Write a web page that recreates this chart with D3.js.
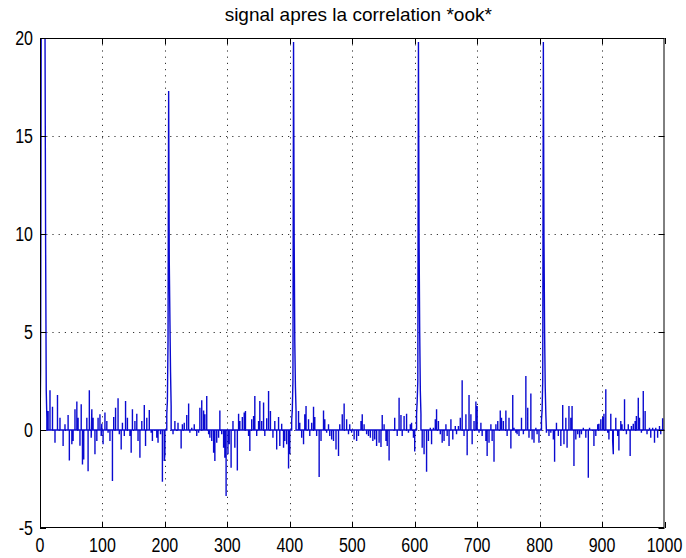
<!DOCTYPE html>
<html><head><meta charset="utf-8">
<script src="https://cdn.jsdelivr.net/npm/d3@7"></script>
<style>body{margin:0;background:#fff}</style>
</head><body>
<svg id="c" width="686" height="558"></svg>
<script>
const title = "signal apres la correlation *ook*";
const xTicks = [0,100,200,300,400,500,600,700,800,900,1000];
const yTicks = [-5,0,5,10,15,20];

// correlation peaks (contiguous samples)
const peakX = [0,1,2,3,4,5,6,7,8,9,10,11,
  203,204,205,206,207,208,209,210,
  403,404,405,406,407,408,409,410,
  603,604,605,606,607,608,609,610,
  803,804,805,806,807,808,809,810];
const peakY = [0,3.1,22,25,26,25,23,22,20.5,9.4,2.0,0.6,
  0.8,1.5,4.5,17.3,8.6,5.7,3.0,1.2,
  0.5,1.0,2.5,19.8,9.8,4.5,2.2,1.0,
  0.8,1.5,2.5,19.8,9.8,5.0,2.0,0.8,
  0.5,1.0,2.5,19.8,9.9,5.0,2.2,0.8];

// residual noise (sample index, value)
const noiseX = [13,16,20,24,28,32,37,40,45,47,51,53,56,59,61,64,66,68,70,75,77,79,82,83,85,88,91,93,96,98,99,101,104,107,109,112,116,118,121,125,127,130,132,135,137,140,144,146,148,152,155,157,160,163,167,169,171,175,178,180,184,187,189,193,196,199,200,
  213,216,219,221,226,228,231,235,238,240,243,247,251,254,256,259,262,264,267,270,272,275,278,280,283,286,288,291,294,296,298,301,303,306,309,312,316,318,320,324,327,329,334,336,339,342,344,347,350,352,355,358,360,363,366,369,373,376,379,382,384,387,390,392,395,398,400,
  414,416,419,422,424,426,430,432,435,438,440,443,447,450,454,456,459,462,464,467,470,474,478,480,484,487,491,494,496,499,
  503,507,510,514,516,519,523,526,529,533,536,539,543,546,548,551,554,556,559,564,568,572,575,578,580,583,587,590,593,595,598,600,
  612,615,619,622,625,627,630,633,635,638,641,644,647,650,652,655,658,661,665,667,670,673,676,679,682,684,687,690,692,695,698,700,703,706,708,714,716,719,722,724,727,730,733,737,739,742,746,748,751,754,757,759,762,764,767,771,774,778,781,783,786,788,791,794,796,799,
  811,815,818,822,824,827,830,834,837,839,842,844,847,850,852,855,858,861,864,867,870,874,878,880,883,887,890,893,895,898,901,903,906,909,911,914,917,918,922,925,927,930,932,936,939,942,945,947,950,953,955,958,960,963,966,969,972,976,978,981,984,986,989,992,994,997];
const noiseY = [0.97,2.03,1.19,-0.65,1.79,0.63,-0.82,0.29,0.77,-1.55,-0.73,-0.56,1.06,1.45,0.63,-0.8,1.31,-1.76,-1.5,0.63,-2.1,2.03,-0.39,1.06,0.63,-1.24,-0.56,0.63,0.8,-0.31,0.32,-0.73,0.89,0.46,-0.14,-0.56,-2.6,0.66,1.14,1.62,-0.22,-0.99,0.37,-0.31,1.48,0.63,-0.31,-1.16,1.06,0.46,0.83,-0.56,-1.41,0.46,1.28,-0.82,0.63,1.02,-0.14,-0.56,-0.05,-0.39,-0.65,-0.22,-2.64,-1.58,-1.24,
  -0.22,0.46,-0.05,0.37,-0.94,0.29,0.37,0.77,1.35,-0.14,0.12,0.29,-0.31,-0.14,1.14,1.52,1.0,0.8,1.74,-0.22,-0.39,-0.56,-1.16,-1.58,-0.65,-0.39,1.0,-0.22,-0.9,-1.41,-3.37,-1.24,-0.73,-1.93,0.46,-0.9,-2.06,0.83,0.46,0.66,0.89,0.97,-0.31,-1.07,0.55,0.72,1.74,-0.31,0.46,1.48,0.46,1.4,-0.31,0.6,1.99,0.97,-0.39,0.46,-0.99,0.66,-0.82,0.32,-0.9,-0.56,-0.73,-1.96,-1.24,
  0.97,0.37,-0.39,-0.73,0.8,1.23,0.55,-0.31,0.37,1.19,0.66,-0.31,-2.4,-0.56,1.0,0.55,-0.14,0.29,-0.31,-0.48,-0.56,-0.99,-1.33,0.29,0.8,1.35,0.55,-0.22,0.29,-0.14,
  -0.48,-0.56,-0.31,0.46,0.8,0.29,-0.22,-0.31,-0.39,-0.56,-0.48,-0.82,-0.65,-0.87,0.77,0.29,-0.56,-0.82,-1.55,0.03,0.63,-0.31,1.65,0.77,-0.31,0.72,0.83,-0.14,0.29,0.37,-0.39,-1.1,
  -0.9,-1.24,-2.13,-0.56,0.12,-0.73,0.12,0.55,1.06,0.46,-0.22,-0.65,-0.56,0.29,-0.31,-0.82,0.55,-0.48,0.2,-0.22,0.2,0.63,2.54,-0.31,0.8,-1.29,1.79,0.8,-0.73,0.46,1.45,1.23,-0.14,0.37,-0.31,-0.56,-1.33,-0.65,0.29,-0.56,-1.62,0.29,0.46,1.0,0.63,0.46,1.0,-0.31,0.63,-0.94,1.79,0.12,-0.14,-0.22,-0.31,0.63,-0.22,2.76,1.14,-0.39,1.86,-0.48,-0.65,0.12,-0.22,-0.65,
  -0.14,-0.31,-0.14,-0.48,-1.62,0.37,-0.31,-0.82,1.28,-0.73,0.63,-0.9,1.23,0.63,1.23,-1.84,-0.48,-0.22,-0.39,-0.22,0.12,-0.39,-2.44,0.12,0.03,-0.82,-0.31,0.29,0.32,0.55,0.66,0.83,2.08,-0.14,-0.48,0.83,-0.56,-1.24,0.63,-0.31,-1.04,0.46,0.29,1.57,-0.22,0.29,-1.33,0.2,0.32,0.46,0.72,1.65,0.63,-0.14,1.99,0.97,-0.22,0.12,-0.39,0.12,-0.65,0.12,-0.39,0.2,-0.22,0.6];

const W = 686, H = 558;
const L = 40, R = 664.5, T = 38, B = 528;
const svg = d3.select("#c");
const x = d3.scaleLinear().domain([0,1000]).range([L,R]);
const y = d3.scaleLinear().domain([-5,20]).range([B,T]);

svg.append("rect").attr("width",W).attr("height",H).attr("fill","#fff");
svg.append("defs").append("clipPath").attr("id","clip")
  .append("rect").attr("x",L).attr("y",T).attr("width",R-L).attr("height",B-T);

// grid
const g = svg.append("g").attr("stroke","#333").attr("stroke-width",1).attr("stroke-dasharray","1.2,5");
g.selectAll("line.vx").data(xTicks.slice(1,-1)).join("line")
  .attr("x1",d=>Math.round(x(d))+0.5).attr("x2",d=>Math.round(x(d))+0.5).attr("y1",T).attr("y2",B);
g.selectAll("line.hy").data(yTicks.slice(1,-1)).join("line")
  .attr("y1",d=>Math.round(y(d))+0.5).attr("y2",d=>Math.round(y(d))+0.5).attr("x1",L).attr("x2",R);

// signal
const pts = peakX.map((s,i)=>[s,peakY[i]]).concat(noiseX.map((s,i)=>[s,noiseY[i]])).sort((a,b)=>a[0]-b[0]);
const path = [[0,0]];
pts.forEach((p,i)=>{
  const prev = i>0 ? pts[i-1][0] : -10;
  const next = i<pts.length-1 ? pts[i+1][0] : 2000;
  if (p[0]-prev > 1) path.push([p[0],0]);
  path.push(p);
  if (next-p[0] > 1) path.push([p[0],0]);
});
path.push([1000,0]);
svg.append("path").attr("clip-path","url(#clip)")
  .attr("d", d3.line().x(d=>x(d[0])).y(d=>y(d[1]))(path))
  .attr("fill","none").attr("stroke","#0a0ad0").attr("stroke-width",1.4).attr("stroke-linejoin","miter");

// axes box and ticks
const ax = svg.append("g").attr("stroke","#000").attr("stroke-width",1).attr("fill","none");
ax.append("rect").attr("x",L+0.5).attr("y",T+0.5).attr("width",R-L-1).attr("height",B-T-1);
const tl = 6;
xTicks.forEach(t=>{
  const xx = Math.round(x(t))+0.5;
  ax.append("line").attr("x1",xx).attr("x2",xx).attr("y1",B).attr("y2",B-tl);
  ax.append("line").attr("x1",xx).attr("x2",xx).attr("y1",T).attr("y2",T+tl);
});
yTicks.forEach(t=>{
  const yy = Math.round(y(t))+0.5;
  ax.append("line").attr("y1",yy).attr("y2",yy).attr("x1",L).attr("x2",L+tl);
  ax.append("line").attr("y1",yy).attr("y2",yy).attr("x1",R).attr("x2",R-tl);
});

const font = "'Liberation Sans', Arial, sans-serif";
svg.append("g").selectAll("text").data(xTicks).join("text")
  .attr("transform",d=>`translate(${x(d)},${B+24}) scale(0.8,1)`).attr("text-anchor","middle")
  .attr("font-family",font).attr("font-size",20).attr("fill","#000").text(d=>d);
svg.append("g").selectAll("text").data(yTicks).join("text")
  .attr("transform",d=>`translate(${L-7},${y(d)+7}) scale(0.8,1)`).attr("text-anchor","end")
  .attr("font-family",font).attr("font-size",20).attr("fill","#000").text(d=>d);
svg.append("text").attr("x",(L+R)/2+6).attr("y",21).attr("text-anchor","middle")
  .attr("font-family",font).attr("font-size",19).attr("fill","#000").text(title);
</script>
</body></html>
